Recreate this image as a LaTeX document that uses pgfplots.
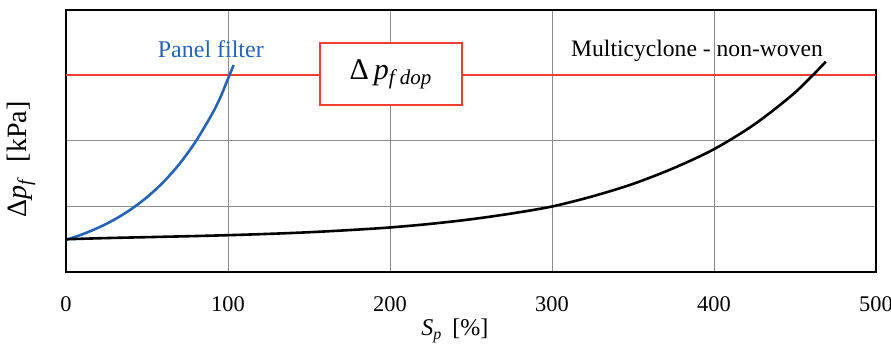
\documentclass[border=0pt]{standalone}
\usepackage{fontspec}
\setmainfont{Liberation Serif}
\usepackage{pgfplots}
\pgfplotsset{compat=1.18}
\definecolor{pfblue}{RGB}{38,100,184}
\definecolor{pfred}{RGB}{240,62,50}
\definecolor{gridgray}{RGB}{140,140,140}
\begin{document}
\begin{tikzpicture}
\begin{axis}[
  width=405pt, height=131pt, scale only axis,
  xmin=0, xmax=500, ymin=0, ymax=4,
  xtick={0,100,200,300,400,500},
  ytick={1,2,3}, yticklabels={},
  major tick length=0pt,
  grid=major,
  grid style={gridgray, line width=0.5pt},
  axis line style={black, line width=1.2pt},
  /pgf/number format/assume math mode=true,
  xticklabel style={font=\fontsize{11.2}{13}\selectfont, yshift=-9pt},
  xlabel={\textit{S}\textsubscript{\textit{p}}\, [\%]},
  xlabel style={font=\fontsize{12}{14}\selectfont, at={(axis description cs:0.48,0)}, anchor=center, yshift=-29.5pt},
  ylabel={Δ\textit{p}\textsubscript{\textit{f}}\ \ [kPa]},
  ylabel style={font=\fontsize{14}{16}\selectfont, at={(axis description cs:-0.055,0.43)}, anchor=center},
  clip=false,
]
% red limit line
\addplot[pfred, line width=1pt] coordinates {(0,3) (500,3)};
% panel filter
\addplot[pfblue, line width=1.3pt, smooth] coordinates {
 (0,0.49) (10,0.574) (20,0.677) (30,0.802) (40,0.955) (50,1.142) (60,1.37) (70,1.649) (80,1.99) (90,2.406) (95,2.65) (100,2.95) (103.5,3.16)
};
% multicyclone
\addplot[black, line width=1.3pt, smooth] coordinates {
 (0,0.5) (25,0.518) (50,0.532) (75,0.546) (100,0.562) (125,0.582) (150,0.607) (175,0.64) (200,0.68) (225,0.735) (250,0.805) (275,0.893) (300,1.0) (325,1.155) (350,1.345) (375,1.585) (400,1.875) (425,2.255) (450,2.74) (469,3.21)
};
\node[text=pfblue, anchor=base, font=\fontsize{12}{14}\selectfont] at (axis cs:89.4,3.28) {Panel filter};
\node[text=black, anchor=base, font=\fontsize{11.8}{14}\selectfont] at (axis cs:389.5,3.29) {Multicyclone - non-woven};
\node[draw=pfred, line width=1.1pt, fill=white, minimum width=71pt, minimum height=31pt, inner sep=0pt, font=\fontsize{15}{17}\selectfont] at (axis cs:200.6,3.02) {Δ\,\textit{p}\textsubscript{\textit{f dop}}};
\end{axis}
\pgfresetboundingbox
\path ([shift={(-33pt,-37.5pt)}]current axis.south west) rectangle ([shift={(7.5pt,5pt)}]current axis.north east);
\end{tikzpicture}
\end{document}
